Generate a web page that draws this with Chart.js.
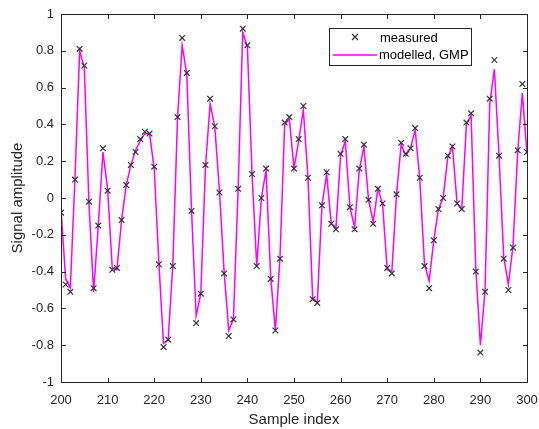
<!DOCTYPE html>
<html>
<head>
<meta charset="utf-8">
<script src="https://cdn.jsdelivr.net/npm/chart.js@4/dist/chart.umd.min.js"></script>
<style>
  html, body { margin: 0; padding: 0; background: #fff; }
</style>
</head>
<body>
<canvas id="sigChart" width="539" height="429"></canvas>
<script>
(function () {
  'use strict';

  // sample index 200..300
  var startIndex = 200;
  var measured = [
    -0.08, -0.47, -0.51, 0.10, 0.81, 0.72, -0.02, -0.49, -0.15, 0.27,
    0.04, -0.39, -0.38, -0.12, 0.07, 0.18, 0.25, 0.32, 0.36, 0.35,
    0.17, -0.36, -0.81, -0.77, -0.37, 0.44, 0.87, 0.68, -0.07, -0.68,
    -0.52, 0.18, 0.54, 0.39, 0.03, -0.41, -0.75, -0.66, 0.05, 0.92,
    0.83, 0.13, -0.37, 0.00, 0.16, -0.44, -0.72, -0.33, 0.41, 0.44,
    0.16, 0.32, 0.50, 0.11, -0.55, -0.57, -0.04, 0.14, -0.14, -0.17,
    0.24, 0.32, -0.05, -0.17, 0.16, 0.29, -0.01, -0.14, 0.05, -0.03,
    -0.38, -0.41, 0.02, 0.30, 0.24, 0.27, 0.38, 0.11, -0.37, -0.49,
    -0.23, -0.06, 0.00, 0.23, 0.28, -0.03, -0.06, 0.41, 0.46, -0.40,
    -0.84, -0.51, 0.54, 0.75, 0.23, -0.33, -0.50, -0.27, 0.26, 0.62,
    0.25
  ];
  var modelled = [
    -0.06, -0.44, -0.49, 0.11, 0.80, 0.71, -0.03, -0.51, -0.15, 0.25,
    0.05, -0.38, -0.39, -0.12, 0.07, 0.18, 0.26, 0.31, 0.35, 0.35,
    0.16, -0.35, -0.79, -0.77, -0.36, 0.43, 0.83, 0.67, -0.06, -0.64,
    -0.52, 0.17, 0.51, 0.39, 0.04, -0.40, -0.72, -0.66, 0.04, 0.90,
    0.82, 0.13, -0.37, 0.00, 0.15, -0.43, -0.72, -0.32, 0.40, 0.43,
    0.16, 0.31, 0.48, 0.11, -0.54, -0.57, -0.04, 0.13, -0.14, -0.16,
    0.23, 0.31, -0.05, -0.16, 0.15, 0.28, -0.01, -0.13, 0.05, -0.03,
    -0.39, -0.40, 0.02, 0.29, 0.23, 0.27, 0.37, 0.10, -0.36, -0.45,
    -0.23, -0.06, 0.00, 0.22, 0.28, -0.03, -0.06, 0.40, 0.45, -0.38,
    -0.80, -0.50, 0.51, 0.70, 0.23, -0.32, -0.47, -0.26, 0.25, 0.57,
    0.24
  ];
  var xTicks = [200, 210, 220, 230, 240, 250, 260, 270, 280, 290, 300];
  var yTicks = [-1, -0.8, -0.6, -0.4, -0.2, 0, 0.2, 0.4, 0.6, 0.8, 1];

  var axisColor = '#262626';
  var fontFamily = '"Liberation Sans", Arial, sans-serif';

  function toPoints(arr) {
    var pts = [];
    for (var i = 0; i < arr.length; i++) {
      pts.push({ x: startIndex + i, y: arr[i] });
    }
    return pts;
  }

  function drawFrame(chart) {
    var c = chart.ctx;
    var a = chart.chartArea;
    var xs = chart.scales.x;
    var ys = chart.scales.y;
    var tl = 4;
    var l = Math.round(a.left);
    var r = Math.round(a.right);
    var t = Math.round(a.top);
    var b = Math.round(a.bottom);
    c.save();
    c.fillStyle = '#262626';
    c.fillRect(l, t, r - l + 1, 1);
    c.fillRect(l, b, r - l + 1, 1);
    c.fillRect(l, t, 1, b - t + 1);
    c.fillRect(r, t, 1, b - t + 1);
    for (var i = 0; i < xTicks.length; i++) {
      var px = Math.round(xs.getPixelForValue(xTicks[i]));
      c.fillRect(px, b - tl, 1, tl);
      c.fillRect(px, t + 1, 1, tl);
    }
    for (var j = 0; j < yTicks.length; j++) {
      var py = Math.round(ys.getPixelForValue(yTicks[j]));
      c.fillRect(l + 1, py, tl, 1);
      c.fillRect(r - tl, py, tl, 1);
    }
    c.restore();
  }

  function drawLegend(chart) {
    var c = chart.ctx;
    var lx = 329, ly = 28, lw = 142, lh = 37;
    c.save();
    c.fillStyle = '#fff';
    c.fillRect(lx, ly, lw, lh);
    c.strokeStyle = axisColor;
    c.lineWidth = 1;
    c.strokeRect(lx + 0.5, ly + 0.5, lw, lh);
    c.strokeStyle = '#333';
    c.lineWidth = 1.2;
    c.beginPath();
    c.moveTo(352, 34); c.lineTo(358, 40);
    c.moveTo(358, 34); c.lineTo(352, 40);
    c.stroke();
    c.strokeStyle = '#ff00ff';
    c.lineWidth = 1.5;
    c.beginPath();
    c.moveTo(333, 55); c.lineTo(377, 55);
    c.stroke();
    c.fillStyle = '#000';
    c.font = '13px ' + fontFamily;
    c.textBaseline = 'middle';
    c.textAlign = 'left';
    c.fillText('measured', 380, 38);
    c.fillText('modelled, GMP', 379, 55);
    c.restore();
  }

  // matlab-like box with inward ticks, plus the legend
  var boxPlugin = {
    id: 'boxPlugin',
    afterDatasetsDraw: function (chart) {
      drawFrame(chart);
    },
    afterDraw: function (chart) {
      drawFrame(chart);
      drawLegend(chart);
    }
  };

  var sigChart = new Chart(document.getElementById('sigChart').getContext('2d'), {
    type: 'scatter',
    data: {
      datasets: [{
        label: 'measured',
        data: toPoints(measured),
        showLine: false,
        pointStyle: 'crossRot',
        pointRadius: 4,
        borderColor: '#333',
        backgroundColor: '#333',
        borderWidth: 1.2,
        order: 0
      }, {
        label: 'modelled, GMP',
        data: toPoints(modelled),
        showLine: true,
        borderColor: '#ff00ff',
        borderWidth: 1.5,
        pointRadius: 0,
        tension: 0,
        order: 1
      }]
    },
    options: {
      responsive: false,
      animation: false,
      layout: { padding: { left: 0, right: 12, top: 14, bottom: 0 } },
      plugins: {
        legend: { display: false },
        tooltip: { enabled: false }
      },
      scales: {
        x: {
          type: 'linear',
          min: 200,
          max: 300,
          afterBuildTicks: function (scale) {
            scale.ticks = xTicks.map(function (v) { return { value: v }; });
          },
          afterFit: function (scale) {
            scale.height = 47;
            scale.paddingLeft = 0;
            scale.paddingRight = 0;
          },
          grid: { display: false, drawTicks: false },
          border: { display: true, color: axisColor, width: 1 },
          ticks: {
            color: axisColor,
            padding: 11,
            maxRotation: 0,
            font: { family: fontFamily, size: 13 }
          },
          title: {
            display: true,
            text: 'Sample index',
            color: axisColor,
            padding: { top: 0, bottom: 0 },
            font: { family: fontFamily, size: 15 }
          }
        },
        y: {
          type: 'linear',
          min: -1,
          max: 1,
          afterBuildTicks: function (scale) {
            scale.ticks = yTicks.map(function (v) { return { value: v }; });
          },
          afterFit: function (scale) {
            scale.width = 61;
            scale.paddingTop = 0;
            scale.paddingBottom = 0;
          },
          grid: { display: false, drawTicks: false },
          border: { display: true, color: axisColor, width: 1 },
          ticks: {
            color: axisColor,
            padding: 7,
            font: { family: fontFamily, size: 13 },
            callback: function (v) {
              var r = Math.round(v * 10) / 10;
              return r === 0 ? '0' : String(r);
            }
          },
          title: {
            display: true,
            text: 'Signal amplitude',
            color: axisColor,
            padding: { top: 9, bottom: 0 },
            font: { family: fontFamily, size: 15 }
          }
        }
      }
    },
    plugins: [boxPlugin]
  });
}());
</script>
</body>
</html>
